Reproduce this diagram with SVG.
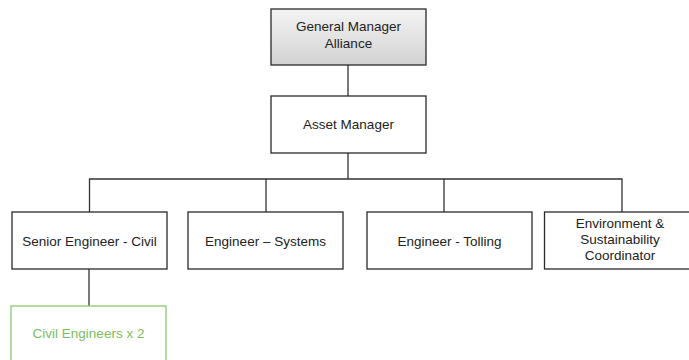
<svg xmlns="http://www.w3.org/2000/svg" width="689" height="360" viewBox="0 0 689 360">
<defs>
<linearGradient id="gmFill" x1="0" y1="0" x2="0" y2="1">
<stop offset="0" stop-color="#f4f4f4"/>
<stop offset="1" stop-color="#d2d2d2"/>
</linearGradient>
<style>
.box{fill:#ffffff;stroke:#2a2a2a;stroke-width:1.3}
.green{fill:#ffffff;stroke:#8cc870;stroke-width:1.3}
.lbl{font-family:"Liberation Sans",Arial,sans-serif;font-size:13.5px;fill:#222;text-anchor:middle}
.glbl{font-family:"Liberation Sans",Arial,sans-serif;font-size:13.5px;fill:#7cc060;text-anchor:middle}
.conn{stroke:#333;stroke-width:1.3;fill:none}
</style>
</defs>
<rect width="689" height="360" fill="#ffffff"/>
<g id="connectors">
<line class="conn" x1="348" y1="65" x2="348" y2="96"/>
<line class="conn" x1="348" y1="153" x2="348" y2="179"/>
<polyline class="conn" points="89.5,212 89.5,179 622,179 622,212"/>
<line class="conn" x1="266" y1="179" x2="266" y2="212"/>
<line class="conn" x1="444" y1="179" x2="444" y2="212"/>
<line class="conn" x1="89" y1="269" x2="89" y2="306"/>
</g>
<g id="general-manager">
<rect x="271" y="9" width="155" height="56" fill="url(#gmFill)" stroke="#2a2a2a" stroke-width="1.3"/>
<text class="lbl" x="348.5" y="31">General Manager</text>
<text class="lbl" x="348.5" y="48">Alliance</text>
</g>
<g id="asset-manager">
<rect class="box" x="271" y="96" width="155" height="57"/>
<text class="lbl" x="348.5" y="129">Asset Manager</text>
</g>
<g id="senior-engineer-civil">
<rect class="box" x="12" y="212" width="155" height="57"/>
<text class="lbl" x="89.5" y="245.5">Senior Engineer - Civil</text>
</g>
<g id="engineer-systems">
<rect class="box" x="188" y="212" width="155" height="57"/>
<text class="lbl" x="265.5" y="245.5">Engineer – Systems</text>
</g>
<g id="engineer-tolling">
<rect class="box" x="367" y="212" width="165" height="57"/>
<text class="lbl" x="449.5" y="245.5">Engineer - Tolling</text>
</g>
<g id="environment-sustainability">
<rect class="box" x="544.5" y="212" width="155" height="57"/>
<text class="lbl" x="620" y="228">Environment &amp;</text>
<text class="lbl" x="620" y="244">Sustainability</text>
<text class="lbl" x="620" y="260">Coordinator</text>
</g>
<g id="civil-engineers">
<rect class="green" x="11" y="306" width="155" height="57"/>
<text class="glbl" x="88.5" y="338">Civil Engineers x 2</text>
</g>
</svg>
